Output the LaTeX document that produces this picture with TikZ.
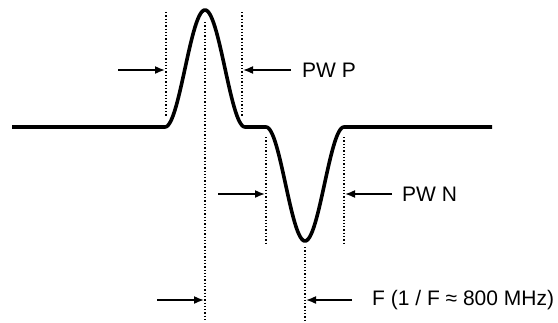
\documentclass[tikz,border=0pt]{standalone}
\usepackage{fontspec}
\setmainfont{Liberation Sans}
\usetikzlibrary{arrows.meta}
\begin{document}
\begin{tikzpicture}[x=1pt,y=-1pt,
  pulse/.style={line width=3.6pt,line join=round},
  guide/.style={line width=1.3pt,dotted},
  marker/.style={line width=1.6pt,-{Latex[length=10pt,width=8pt]}},
  lbl/.style={font=\fontsize{21}{25}\selectfont,anchor=west,inner sep=0pt}]
\useasboundingbox (0,0) rectangle (558,322);
% signal
\draw[pulse] (12,127) -- (165,127)
  -- plot[domain=165:245,samples=60] (\x,{127-117*cos(180*(\x-205)/80)^2})
  -- (266,127)
  -- plot[domain=266:344,samples=60] (\x,{127+114*cos(180*(\x-305)/78)^2})
  -- (492,127);
% guide lines
\coordinate (pl) at (166,117); \coordinate (plt) at (166,12);
\coordinate (pr) at (242,117); \coordinate (prt) at (242,12);
\coordinate (c) at (205,322); \coordinate (ct) at (205,22);
\coordinate (nl) at (266,243); \coordinate (nlt) at (266,137);
\coordinate (nr) at (344,243); \coordinate (nrt) at (344,137);
\coordinate (t) at (305,322); \coordinate (tt) at (305,247);
\draw[guide] (plt) -- (pl);
\draw[guide] (prt) -- (pr);
\draw[guide] (ct) -- (c);
\draw[guide] (nlt) -- (nl);
\draw[guide] (nrt) -- (nr);
\draw[guide] (tt) -- (t);
% labels
\node[lbl] (pwp) at (302,70) {PW P};
\node[lbl] (pwn) at (402,194) {PW N};
\node[lbl] (f) at (372,300) {F (1 / F ≈ 800 MHz)};
% arrows
\coordinate (a1s) at (118,70); \coordinate (a1e) at (165,70);
\coordinate (a2s) at (291,70); \coordinate (a2e) at (243,70);
\coordinate (a3s) at (218,194); \coordinate (a3e) at (265,194);
\coordinate (a4s) at (392,194); \coordinate (a4e) at (345,194);
\coordinate (a5s) at (157,300); \coordinate (a5e) at (204,300);
\coordinate (a6s) at (352,300); \coordinate (a6e) at (306,300);
\draw[marker] (a1s) -- (a1e);
\draw[marker] (a2s) -- (a2e);
\draw[marker] (a3s) -- (a3e);
\draw[marker] (a4s) -- (a4e);
\draw[marker] (a5s) -- (a5e);
\draw[marker] (a6s) -- (a6e);
\end{tikzpicture}
\end{document}
